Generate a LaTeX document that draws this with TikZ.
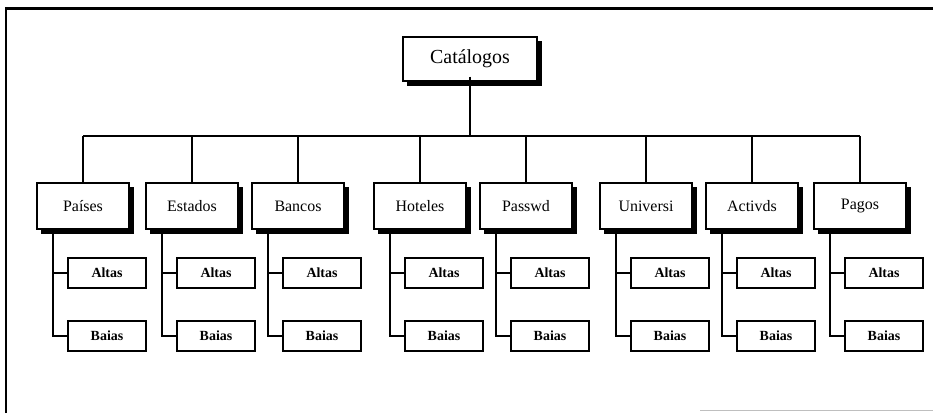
\documentclass[tikz,border=0pt]{standalone}
\usepackage{fontspec}
\setmainfont{Liberation Serif}
\begin{document}
\begin{tikzpicture}[x=1bp,y=-1bp,
  line width=1.6bp,
  catbox/.style={draw, fill=white, minimum width=134bp, minimum height=44bp,
    inner sep=0pt, outer sep=0pt, font=\fontsize{20}{22}\selectfont},
  topbox/.style={draw, fill=white, minimum width=92bp, minimum height=46bp,
    inner sep=0pt, outer sep=0pt, font=\fontsize{16}{18}\selectfont},
  subbox/.style={draw, fill=white, minimum width=78bp, minimum height=30bp,
    inner sep=0pt, outer sep=0pt, font=\bfseries\fontsize{14}{16}\selectfont},
  link/.style={draw, line width=1.8bp},
  frameline/.style={line width=2.6bp},
  shadebox/.style={fill=black}]
\useasboundingbox (0,0) rectangle (933,413);

% outer frame: left and top rules, faint rule at the foot
\draw[frameline] (6,413) -- (6,8.5) -- (933,8.5);
\draw[line width=1.2bp, black!25] (700,410.5) -- (933,410.5);

% root
\node[catbox] (cat) at (470,59) {Catálogos};
\coordinate (bus) at (0,136);

% second level with its two leaves each
\foreach \n/\x/\t in {1/83/Países, 2/192/Estados, 3/298/Bancos, 4/420/Hoteles,
                      5/526/Passwd, 6/646/Universi, 7/752/Activds, 8/860/Pagos}{
  \node[topbox] (p\n) at (\x,206) {\t};
  \node[subbox] (a\n) at (\x+24,273) {Altas};
  \node[subbox] (b\n) at (\x+24,336) {Baias};
  \draw[link] (p\n.north) -- (p\n.north |- bus);
  \draw[link] ([xshift=16bp]p\n.south west) |- (b\n.west);
  \draw[link] ([xshift=16bp]p\n.south west |- a\n.west) -- (a\n.west);
  % heavy right and lower edges: the offset shadow of the box
  \fill[shadebox] ([shift={(0,4)}]p\n.north east) rectangle ([shift={(4.5,4.5)}]p\n.south east);
  \fill[shadebox] ([shift={(4,0)}]p\n.south west) rectangle ([shift={(4.5,4.5)}]p\n.south east);
}
\fill[shadebox] ([shift={(0,4)}]cat.north east) rectangle ([shift={(4.5,4.5)}]cat.south east);
\fill[shadebox] ([shift={(4,0)}]cat.south west) rectangle ([shift={(4.5,4.5)}]cat.south east);

% bus from the root to every branch
\draw[link] ([yshift=4.5bp]cat.south) -- (cat.south |- bus);
\draw[link] (p1.north |- bus) -- (p8.north |- bus);
\end{tikzpicture}
\end{document}
